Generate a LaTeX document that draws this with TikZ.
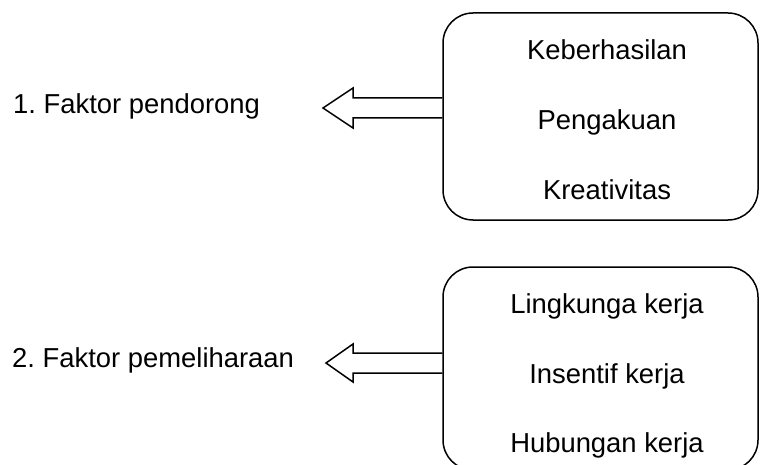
\documentclass[tikz,border=0pt]{standalone}
\usepackage{fontspec}
\setmainfont{Liberation Sans}
\begin{document}
\frenchspacing
\begin{tikzpicture}[x=1pt,y=-1pt,
  txt/.style={font=\fontsize{27.4}{32}\selectfont, inner sep=0pt, anchor=base},
  lbl/.style={font=\fontsize{27.4}{32}\selectfont, inner sep=0pt, anchor=base west},
  rbox/.style={draw, line width=1.5pt, rounded corners=30pt, inner sep=0pt},
  hollow/.style={draw, line width=1.5pt, line join=miter}]
\useasboundingbox (0,0) rectangle (760,465);
\clip (0,0) rectangle (760,465);
% boxes
\node[rbox, minimum width=315pt, minimum height=207pt] (b1) at (600.5,116.5) {};
\node[rbox, minimum width=315pt, minimum height=203pt] (b2) at (600.5,368.5) {};
% box texts
\node[txt] (t11) at (607,60) {Keberhasilan};
\node[txt] (t12) at (607,130) {Pengakuan};
\node[txt] (t13) at (607,200) {Kreativitas};
\node[txt] (t21) at (607,313) {Lingkunga kerja};
\node[txt] (t22) at (607,383) {Insentif kerja};
\node[txt] (t23) at (607,452) {Hubungan kerja};
% left labels
\node[lbl] (l1) at (13,114) {1. Faktor pendorong};
\node[lbl] (l2) at (12,367) {2. Faktor pemeliharaan};
% arrow anchor points on the box edges
\coordinate (a1t) at (b1.west |- 0,98);
\coordinate (a1b) at (b1.west |- 0,118);
\coordinate (a2t) at (b2.west |- 0,353);
\coordinate (a2b) at (b2.west |- 0,373);
\coordinate (tip1) at (323,108);
\coordinate (tip2) at (326,363);
% hollow arrows
\draw[hollow] (a1t) -- (353,98) -- (353,88) -- (tip1) -- (353,128) -- (353,118) -- (a1b);
\draw[hollow] (a2t) -- (353,353) -- (353,344) -- (tip2) -- (353,382) -- (353,373) -- (a2b);
\end{tikzpicture}
\end{document}
